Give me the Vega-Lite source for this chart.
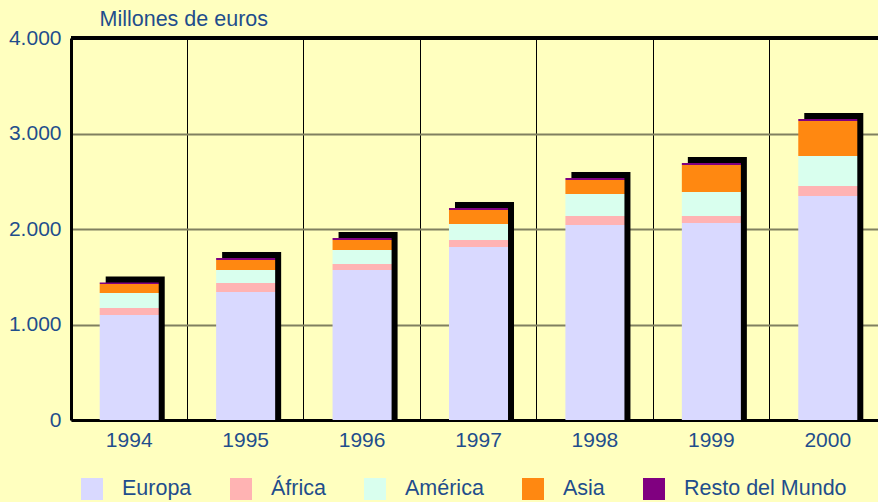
{
  "$schema": "https://vega.github.io/schema/vega-lite/v6.json",
  "width": 807,
  "height": 382,
  "autosize": "none",
  "padding": {"left": 71, "top": 38, "right": 0, "bottom": 82},
  "background": "#FFFFBF",
  "config": {"view": {"stroke": null}, "font": "Liberation Sans"},
  "data": {"values": [
    {"year": "1994", "region": "Europa", "k": 1, "value": 1100},
    {"year": "1994", "region": "África", "k": 2, "value": 73},
    {"year": "1994", "region": "América", "k": 3, "value": 157},
    {"year": "1994", "region": "Asia", "k": 4, "value": 94},
    {"year": "1994", "region": "Resto del Mundo", "k": 5, "value": 15},
    {"year": "1995", "region": "Europa", "k": 1, "value": 1340},
    {"year": "1995", "region": "África", "k": 2, "value": 95},
    {"year": "1995", "region": "América", "k": 3, "value": 136},
    {"year": "1995", "region": "Asia", "k": 4, "value": 104},
    {"year": "1995", "region": "Resto del Mundo", "k": 5, "value": 21},
    {"year": "1996", "region": "Europa", "k": 1, "value": 1571},
    {"year": "1996", "region": "África", "k": 2, "value": 63},
    {"year": "1996", "region": "América", "k": 3, "value": 146},
    {"year": "1996", "region": "Asia", "k": 4, "value": 105},
    {"year": "1996", "region": "Resto del Mundo", "k": 5, "value": 21},
    {"year": "1997", "region": "Europa", "k": 1, "value": 1812},
    {"year": "1997", "region": "África", "k": 2, "value": 73},
    {"year": "1997", "region": "América", "k": 3, "value": 167},
    {"year": "1997", "region": "Asia", "k": 4, "value": 147},
    {"year": "1997", "region": "Resto del Mundo", "k": 5, "value": 21},
    {"year": "1998", "region": "Europa", "k": 1, "value": 2042},
    {"year": "1998", "region": "África", "k": 2, "value": 94},
    {"year": "1998", "region": "América", "k": 3, "value": 230},
    {"year": "1998", "region": "Asia", "k": 4, "value": 147},
    {"year": "1998", "region": "Resto del Mundo", "k": 5, "value": 21},
    {"year": "1999", "region": "Europa", "k": 1, "value": 2063},
    {"year": "1999", "region": "África", "k": 2, "value": 73},
    {"year": "1999", "region": "América", "k": 3, "value": 251},
    {"year": "1999", "region": "Asia", "k": 4, "value": 283},
    {"year": "1999", "region": "Resto del Mundo", "k": 5, "value": 21},
    {"year": "2000", "region": "Europa", "k": 1, "value": 2346},
    {"year": "2000", "region": "África", "k": 2, "value": 104},
    {"year": "2000", "region": "América", "k": 3, "value": 314},
    {"year": "2000", "region": "Asia", "k": 4, "value": 367},
    {"year": "2000", "region": "Resto del Mundo", "k": 5, "value": 21}
  ]},
  "layer": [
    {
      "mark": {"type": "bar", "color": "black", "width": {"band": 0.507}, "xOffset": 6, "yOffset": -6, "y2Offset": -5},
      "encoding": {
        "x": {
          "field": "year", "type": "ordinal",
          "scale": {"type": "band", "range": [0, 815], "paddingInner": 0, "paddingOuter": 0},
          "axis": {
            "title": null, "labelAngle": 0, "ticks": false, "labelPadding": 9,
            "labelFontSize": 21, "labelColor": "#1f4e8c", "labelFont": "Liberation Sans",
            "domainColor": "black", "domainWidth": 3,
            "grid": true, "gridColor": "black", "gridWidth": 1, "bandPosition": 0
          }
        },
        "y": {
          "aggregate": "sum", "field": "value", "type": "quantitative",
          "scale": {"domain": [0, 4000], "nice": false},
          "axis": {
            "values": [0, 1000, 2000, 3000, 4000],
            "labelExpr": "replace(format(datum.value, ',d'), ',', '.')",
            "ticks": false, "labelPadding": 10,
            "labelFontSize": 21, "labelColor": "#1f4e8c", "labelFont": "Liberation Sans",
            "domainColor": "black", "domainWidth": 3,
            "grid": true, "gridColor": "#808060", "gridWidth": 2,
            "title": "Millones de euros", "titleAngle": 0, "titleAlign": "left", "titleBaseline": "middle",
            "titleX": 28, "titleY": -19, "titleFontSize": 21.5, "titleFontWeight": "normal",
            "titleColor": "#1f4e8c", "titleFont": "Liberation Sans"
          }
        }
      }
    },
    {
      "mark": {"type": "bar", "width": {"band": 0.507}},
      "encoding": {
        "x": {"field": "year", "type": "ordinal"},
        "y": {"field": "value", "type": "quantitative", "stack": "zero"},
        "order": {"field": "k", "type": "quantitative"},
        "color": {
          "field": "region", "type": "nominal",
          "scale": {
            "domain": ["Europa", "África", "América", "Asia", "Resto del Mundo"],
            "range": ["#D9D9FF", "#FFB3B3", "#D9FFEE", "#FF8811", "#800080"]
          },
          "legend": {
            "orient": "none", "legendX": 10, "legendY": 440, "direction": "horizontal", "columns": 5,
            "title": null, "symbolType": "square", "symbolSize": 484, "symbolStrokeWidth": 0,
            "labelFontSize": 21.5, "labelColor": "#1f4e8c", "labelFont": "Liberation Sans",
            "labelLimit": 0, "labelOffset": 19, "columnPadding": 38, "padding": 0, "symbolOpacity": 1
          }
        }
      }
    },
    {
      "mark": {"type": "rule", "color": "black", "strokeWidth": 3},
      "encoding": {"y": {"datum": 4000}}
    }
  ]
}
